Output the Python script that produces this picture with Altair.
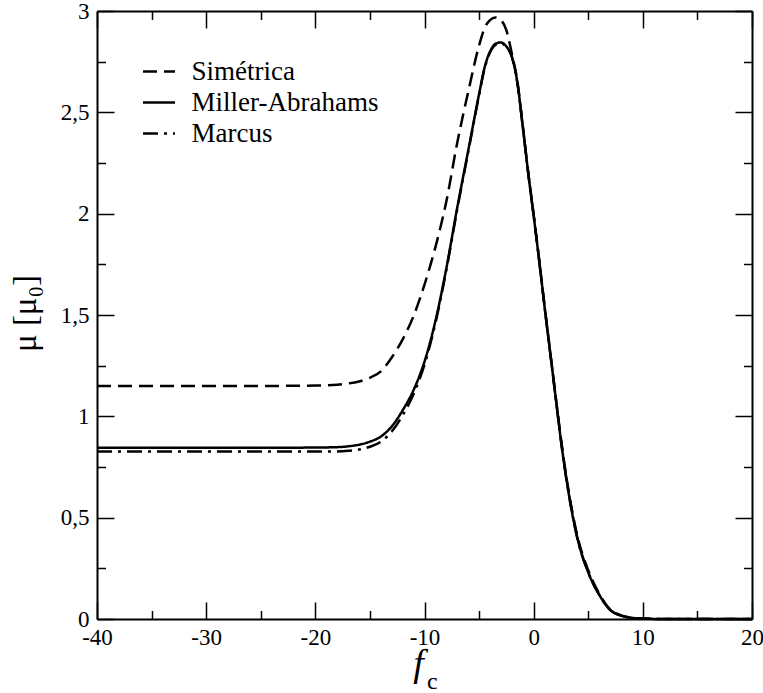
import altair as alt
import pandas as pd

series_names = ["Simétrica", "Miller-Abrahams", "Marcus"]

f_c = [-40, -35, -30, -25, -20, -18, -17, -16, -15, -14, -13, -12, -11, -10,
       -9, -8, -7, -6, -5, -4.5, -4, -3.5, -3, -2.5, -2, -1.5, -1, -0.5,
       0, 0.5, 1, 1.5, 2, 2.5, 3, 3.5, 4, 5, 6, 7, 8, 9, 10, 12, 15, 20]

mu_simetrica = [1.150, 1.150, 1.150, 1.150, 1.152, 1.156, 1.162, 1.172, 1.190, 1.222,
                1.290, 1.380, 1.495, 1.650, 1.835, 2.060, 2.350, 2.600, 2.830, 2.915,
                2.955, 2.968, 2.955, 2.905, 2.790, 2.655, 2.435, 2.205, 1.995, 1.775,
                1.545, 1.325, 1.105, 0.890, 0.700, 0.540, 0.410, 0.240, 0.125, 0.048,
                0.018, 0.006, 0.002, 0.000, 0.000, 0.000]

mu_miller = [0.845, 0.845, 0.845, 0.845, 0.846, 0.848, 0.852, 0.860, 0.875, 0.900,
             0.950, 1.030, 1.130, 1.270, 1.470, 1.730, 2.030, 2.310, 2.590, 2.720,
             2.800, 2.838, 2.845, 2.825, 2.775, 2.650, 2.430, 2.200, 1.990, 1.770,
             1.540, 1.320, 1.100, 0.880, 0.690, 0.530, 0.400, 0.230, 0.120, 0.045,
             0.017, 0.006, 0.002, 0.000, 0.000, 0.000]

mu_marcus = [0.826, 0.826, 0.826, 0.826, 0.826, 0.827, 0.830, 0.836, 0.850, 0.875,
             0.925, 1.005, 1.110, 1.255, 1.460, 1.722, 2.022, 2.303, 2.585, 2.715,
             2.795, 2.832, 2.840, 2.822, 2.773, 2.648, 2.430, 2.200, 1.990, 1.770,
             1.540, 1.320, 1.100, 0.880, 0.690, 0.530, 0.400, 0.230, 0.120, 0.045,
             0.017, 0.006, 0.002, 0.000, 0.000, 0.000]

x_major = [-40, -30, -20, -10, 0, 10, 20]
x_minor = [-35, -25, -15, -5, 5, 15]
y_major = [0, 0.5, 1, 1.5, 2, 2.5, 3]
y_minor = [0.25, 0.75, 1.25, 1.75, 2.25, 2.75]

rows = []
for name, ys in zip(series_names, [mu_simetrica, mu_miller, mu_marcus]):
    for xv, yv in zip(f_c, ys):
        rows.append({"fc": xv, "mu": yv, "serie": name})
df = pd.DataFrame(rows)

W, H = 655, 608
FONT = "Liberation Serif"
xscale = alt.Scale(domain=[-40, 20], nice=False, zero=False)
yscale = alt.Scale(domain=[0, 3], nice=False, zero=False)
dash_scale = alt.Scale(domain=series_names, range=[[14, 7], [1, 0], [15, 6, 3, 6]])


def tick_axis(orient, values, size, domain=False):
    return alt.Axis(orient=orient, values=values, labels=False, ticks=True,
                    tickSize=alt.ExprRef(expr=str(-size)), tickWidth=1.5,
                    tickColor="black", domain=domain, domainWidth=2,
                    domainColor="black", grid=False, title=None)


lines = alt.Chart(df).mark_line(color="black", strokeWidth=2.5, interpolate="monotone").encode(
    x=alt.X("fc:Q", scale=xscale, axis=alt.Axis(
        orient="bottom", values=x_major, ticks=False, domain=True, domainWidth=2,
        domainColor="black", grid=False, labelFont=FONT, labelFontSize=23,
        labelColor="black", labelPadding=7, labelFlush=False, labelOverlap=False,
        labelExpr="datum.value < 0 ? '-' + toString(-datum.value) : toString(datum.value)",
        title="f", titleFont=FONT, titleFontSize=38, titleFontStyle="italic",
        titleFontWeight="normal", titleColor="black", titleX=321, titleY=56,
        titleAlign="center", titleBaseline="alphabetic")),
    y=alt.Y("mu:Q", scale=yscale, axis=alt.Axis(
        orient="left", values=y_major, ticks=False, domain=True, domainWidth=2,
        domainColor="black", grid=False, labelFont=FONT, labelFontSize=23,
        labelColor="black", labelPadding=8, labelFlush=False, labelOverlap=False,
        labelExpr="replace(toString(datum.value), '.', ',')",
        title="μ [μ₀]", titleFont=FONT, titleFontSize=33, titleFontWeight="normal",
        titleColor="black", titleAngle=-90, titleX=-62, titleY=302,
        titleAlign="center", titleBaseline="alphabetic")),
    strokeDash=alt.StrokeDash("serie:N", scale=dash_scale, legend=alt.Legend(
        orient="none", legendX=44.5, legendY=43, title=None, symbolType="stroke",
        symbolSize=1024, symbolStrokeWidth=2.5, symbolStrokeColor="black",
        labelFont=FONT, labelFontSize=27, labelColor="black", labelOffset=15,
        labelLimit=400, rowPadding=alt.ExprRef(expr="-7"), padding=0)),
)

ghost = alt.Chart(df).mark_line(strokeOpacity=0)
l_major_bl = ghost.encode(
    x=alt.X("fc:Q", scale=xscale, axis=tick_axis("bottom", x_major, 17)),
    y=alt.Y("mu:Q", scale=yscale, axis=tick_axis("left", y_major, 17)))
l_minor_bl = ghost.encode(
    x=alt.X("fc:Q", scale=xscale, axis=tick_axis("bottom", x_minor, 8.5)),
    y=alt.Y("mu:Q", scale=yscale, axis=tick_axis("left", y_minor, 8.5)))
l_major_tr = ghost.encode(
    x=alt.X("fc:Q", scale=xscale, axis=tick_axis("top", x_major, 17, domain=True)),
    y=alt.Y("mu:Q", scale=yscale, axis=tick_axis("right", y_major, 17, domain=True)))
l_minor_tr = ghost.encode(
    x=alt.X("fc:Q", scale=xscale, axis=tick_axis("top", x_minor, 8.5)),
    y=alt.Y("mu:Q", scale=yscale, axis=tick_axis("right", y_minor, 8.5)))

sub = alt.Chart(pd.DataFrame({"t": ["c"]})).mark_text(
    font=FONT, fontSize=24, align="left", baseline="alphabetic", color="black"
).encode(text="t:N", x=alt.value(330), y=alt.value(678))

chart = alt.layer(lines, l_major_bl, l_minor_bl, l_major_tr, l_minor_tr, sub).resolve_axis(
    x="independent", y="independent"
).properties(
    width=W, height=H,
    padding={"left": 97, "top": 11, "right": 11, "bottom": 74},
    autosize=alt.AutoSizeParams(type="none"),
).configure_view(stroke=None)

chart.save("out.html", embed_options={"renderer": "svg", "actions": False})
